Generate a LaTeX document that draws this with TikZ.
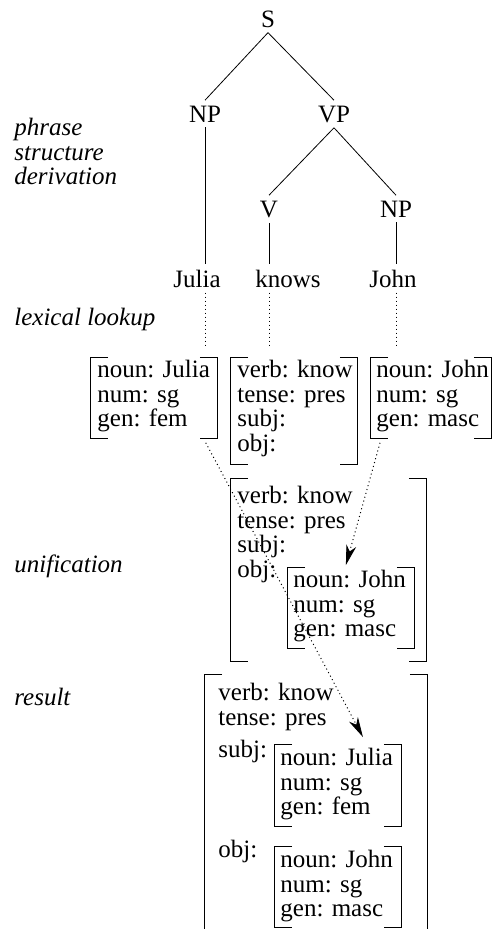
\documentclass[tikz,border=0pt]{standalone}
\usepackage{fontspec}
\setmainfont{Liberation Serif}
\usetikzlibrary{arrows.meta,calc}

% square brackets round a feature structure
\newcommand\fsbrackets[1]{%
  \draw ([xshift=18pt]#1.north west) -| (#1.south west) -- ++(18,0);
  \draw ([xshift=-18pt]#1.north east) -| (#1.south east) -- ++(-18,0);}

\begin{document}
\begin{tikzpicture}[x=1pt,y=-1pt,line width=0.8pt,
    every node/.style={font=\fontsize{25}{24.5}\selectfont},
    cat/.style={inner sep=5pt,anchor=base},
    stage/.style={font=\fontsize{25}{24.5}\selectfont\itshape,align=left,inner sep=0pt,anchor=base west},
    fsframe/.style={inner sep=0pt,anchor=north west,minimum width=127pt,minimum height=81pt},
    fs/.style={align=left,inner sep=0pt,anchor=north west},
    lex/.style={line width=1pt,dash pattern=on 1pt off 3pt,shorten >=10pt},
    unify/.style={line width=1pt,dash pattern=on 1pt off 3pt,shorten >=8pt},
    unitip/.style={solid,line width=0.8pt,-{Stealth[length=20pt,width=10pt,inset=6pt]}}]
  \path[use as bounding box,clip] (0,0) rectangle (492,929);
  % stages
  \node[stage,anchor=north west] (psd) at (14,118) {phrase\\structure\\derivation};
  \node[stage] (lexlab) at (14,325) {lexical lookup};
  \node[stage] (unilab) at (14,572) {unification};
  \node[stage] (reslab) at (14,705) {result};
  % tree
  \node[cat] (s) at (268,27) {S};
  \node[cat] (np) at (205,122) {NP};
  \node[cat] (vp) at (334,122) {VP};
  \node[cat] (v) at (269,217) {V};
  \node[cat] (np2) at (396,217) {NP};
  \node[cat] (julia) at (197,287) {Julia};
  \node[cat] (knows) at (288,287) {knows};
  \node[cat] (john) at (393,287) {John};
  \draw (s.south) -- (np.north);
  \draw (s.south) -- (vp.north);
  \draw (vp.south) -- (v.north);
  \draw (vp.south) -- (np2.north);
  \draw (np.south) -- (np.south |- julia.north);
  \draw (v.south) -- (v.south |- knows.north);
  \draw (np2.south) -- (np2.south |- john.north);
  % lexical entries
  \node[fsframe] (jbox) at (90,357) {};
  \node[fsframe,minimum height=107pt] (kbox) at (230,357) {};
  \node[fsframe,minimum width=121pt] (jnbox) at (370,357) {};
  \node[fs] (jtext) at ([shift={(7,3)}]jbox.north west) {noun: Julia\\num: sg\\gen: fem};
  \node[fs] (ktext) at ([shift={(7,3)}]kbox.north west) {verb: know\\tense: pres\\subj:\\obj:};
  \node[fs] (jntext) at ([shift={(6,3)}]jnbox.north west) {noun: John\\num: sg\\gen: masc};
  \draw[lex] (np.south |- julia.south) -- (np.south |- jbox.north);
  \draw[lex] (v.south |- knows.south) -- (v.south |- kbox.north);
  \draw[lex] (np2.south |- john.south) -- (np2.south |- jnbox.north);
  % unification
  \node[fsframe,minimum width=196pt,minimum height=183pt] (ubox) at (230,478) {};
  \node[fs] (utext) at ([shift={(7,8)}]ubox.north west) {verb: know\\tense: pres\\subj:\\obj:};
  \node[fsframe] (ujbox) at (287,567) {};
  \node[fs] (ujtext) at ([shift={(6,3)}]ujbox.north west) {noun: John\\num: sg\\gen: masc};
  % result
  \node[fsframe,minimum width=223pt,minimum height=270pt] (rbox) at (204,674) {};
  \node[fs] (rtext) at ([shift={(14,9)}]rbox.north west) {verb: know\\tense: pres};
  \node[fs,anchor=base west] (rsubj) at (218,757) {subj:};
  \node[fs,anchor=base west] (robj) at (218,857) {obj:};
  \node[fsframe,minimum height=82pt] (rjbox) at (274,744) {};
  \node[fs] (rjtext) at ([shift={(6,4)}]rjbox.north west) {noun: Julia\\num: sg\\gen: fem};
  \node[fsframe] (rnbox) at (274,846) {};
  \node[fs] (rntext) at ([shift={(6,4)}]rnbox.north west) {noun: John\\num: sg\\gen: masc};
  \foreach \b in {jbox,kbox,jnbox,ubox,ujbox,rbox,rjbox,rnbox} {\fsbrackets{\b}}
  % unification arrows
  \coordinate (jfrom) at ([xshift=-12pt,yshift=-4pt]jbox.south east);
  \coordinate (jto) at ([xshift=25pt,yshift=7pt]rjbox.north);
  \coordinate (nfrom) at ([xshift=10pt,yshift=-4pt]jnbox.south west);
  \coordinate (nto) at ([xshift=-5pt,yshift=2pt]ujbox.north);
  \draw[unify] (jfrom) -- (jto);
  \draw[unitip] ($(jto)!10pt!(jfrom)$) -- (jto);
  \draw[unify] (nfrom) -- (nto);
  \draw[unitip] ($(nto)!10pt!(nfrom)$) -- (nto);
\end{tikzpicture}
\end{document}
